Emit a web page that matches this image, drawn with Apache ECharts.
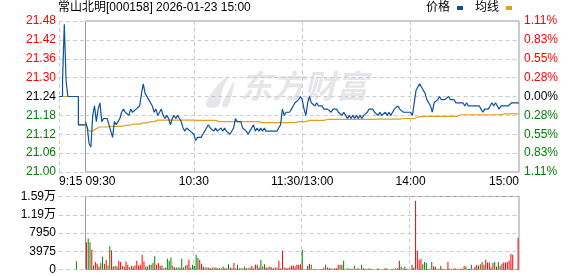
<!DOCTYPE html>
<html><head><meta charset="utf-8">
<script src="https://cdn.jsdelivr.net/npm/echarts@6/dist/echarts.min.js"></script>
<style>html,body{margin:0;padding:0;background:#fff}#c{width:578px;height:276px}</style>
</head><body><div id="c"></div>
<script>
const chartTitle = '常山北明[000158] 2026-01-23 15:00';
const priceTicks = ['21.00','21.06','21.12','21.18','21.24','21.30','21.36','21.42','21.48'];
const pctTicks = ['1.11%','0.83%','0.55%','0.28%','0.00%','0.28%','0.55%','0.83%','1.11%'];
const volTicks = ['0','3975','7950','1.19万','1.59万'];
const timeTickIdx = [0,60,120,180,240];
const timeTickText = ['09:30','10:30','11:30/13:00','14:00','15:00'];
const preTickText = '9:15';

const prePrice = [21.24,21.24,21.29,21.47,21.29,21.24,21.24,21.24,21.24,21.24,21.24,21.15,21.15,21.15,21.15,21.15];
const preAvg = [null,21.24,21.24,21.24,21.24,21.24,21.24,21.24,21.24,21.24,21.24,21.15,21.15,21.15,21.15,21.15];
const preVol = [0,0,0,0,0,0,0,0,0,0,1770,0,0,0,0,0];
const preVolDir = [1,1,1,1,1,1,1,1,1,1,-1,1,1,1,1,1];

const price = [
21.16,21.14,21.09,21.08,21.18,21.21,21.16,21.20,21.22,21.16,
21.17,21.17,21.17,21.15,21.13,21.11,21.16,21.15,21.16,21.17,
21.19,21.20,21.19,21.19,21.18,21.20,21.19,21.19,21.20,21.20,
21.21,21.25,21.28,21.25,21.25,21.23,21.23,21.21,21.19,21.20,
21.18,21.19,21.20,21.18,21.17,21.18,21.17,21.15,21.17,21.18,
21.17,21.18,21.17,21.16,21.14,21.13,21.14,21.14,21.13,21.13,
21.12,21.10,21.11,21.11,21.11,21.12,21.13,21.14,21.15,21.14,
21.14,21.13,21.14,21.13,21.13,21.14,21.13,21.14,21.13,21.13,
21.12,21.12,21.14,21.17,21.16,21.16,21.16,21.14,21.14,21.13,
21.12,21.13,21.14,21.15,21.13,21.14,21.13,21.14,21.13,21.14,
21.13,21.13,21.13,21.13,21.13,21.13,21.13,21.13,21.15,21.20,
21.18,21.19,21.19,21.19,21.20,21.21,21.22,21.22,21.23,21.24,
21.23,21.20,21.18,21.22,21.24,21.22,21.22,21.21,21.22,21.21,
21.21,21.21,21.20,21.20,21.20,21.20,21.19,21.20,21.20,21.20,
21.19,21.19,21.18,21.19,21.18,21.17,21.18,21.17,21.18,21.17,
21.18,21.17,21.18,21.17,21.18,21.18,21.19,21.20,21.20,21.20,
21.19,21.19,21.18,21.19,21.18,21.18,21.19,21.18,21.19,21.18,
21.19,21.20,21.20,21.21,21.20,21.20,21.19,21.19,21.19,21.19,
21.19,21.18,21.18,21.26,21.27,21.28,21.27,21.26,21.25,21.23,
21.22,21.21,21.19,21.22,21.22,21.23,21.24,21.23,21.23,21.23,
21.23,21.24,21.23,21.23,21.23,21.22,21.22,21.22,21.22,21.22,
21.21,21.22,21.21,21.21,21.21,21.21,21.21,21.21,21.21,21.20,
21.19,21.20,21.20,21.20,21.21,21.22,21.21,21.22,21.21,21.20,
21.21,21.21,21.21,21.21,21.21,21.21,21.22,21.22,21.22,21.22,21.22];

const avgPrice = [
21.155,21.14,21.13,21.125,21.13,21.135,21.138,21.14,21.143,21.143,
21.143,21.143,21.143,21.145,21.145,21.145,21.145,21.145,21.145,21.145,
21.145,21.148,21.148,21.148,21.148,21.148,21.152,21.152,21.152,21.152,
21.152,21.156,21.156,21.156,21.156,21.156,21.16,21.16,21.16,21.16,
21.165,21.165,21.165,21.165,21.165,21.165,21.165,21.165,21.165,21.165,
21.165,21.165,21.165,21.165,21.165,21.165,21.165,21.165,21.165,21.165,
21.165,21.164,21.164,21.164,21.164,21.164,21.164,21.164,21.164,21.164,
21.164,21.164,21.164,21.164,21.16,21.16,21.16,21.16,21.16,21.16,
21.16,21.16,21.16,21.16,21.16,21.16,21.16,21.16,21.16,21.16,
21.16,21.16,21.16,21.16,21.16,21.16,21.16,21.157,21.157,21.157,
21.157,21.157,21.157,21.157,21.157,21.157,21.157,21.157,21.157,21.157,
21.157,21.157,21.157,21.157,21.157,21.157,21.157,21.16,21.16,21.16,
21.16,21.16,21.16,21.164,21.164,21.164,21.164,21.164,21.164,21.164,
21.164,21.164,21.164,21.164,21.167,21.167,21.167,21.167,21.167,21.167,
21.167,21.167,21.167,21.167,21.167,21.167,21.167,21.167,21.167,21.167,
21.167,21.167,21.167,21.167,21.167,21.167,21.167,21.167,21.167,21.167,
21.167,21.168,21.168,21.168,21.168,21.168,21.168,21.168,21.168,21.168,
21.168,21.168,21.168,21.168,21.168,21.17,21.17,21.17,21.17,21.17,
21.17,21.17,21.17,21.175,21.175,21.175,21.175,21.177,21.177,21.177,
21.177,21.177,21.177,21.177,21.177,21.177,21.177,21.177,21.177,21.177,
21.177,21.177,21.177,21.177,21.177,21.177,21.177,21.177,21.182,21.182,
21.182,21.182,21.182,21.182,21.182,21.182,21.182,21.182,21.182,21.182,
21.182,21.182,21.182,21.182,21.182,21.182,21.182,21.182,21.182,21.182,
21.182,21.182,21.185,21.185,21.185,21.185,21.185,21.185,21.185,21.185,21.185];

const volume = [
5940,6740,5940,4325,880,1610,1250,660,1390,2790,
1250,2130,880,5060,4180,660,810,660,1910,1610,
810,660,1760,1030,510,810,660,880,1910,880,
1030,3230,1760,660,660,1030,1030,1390,2860,1030,
1390,810,880,290,440,2350,1910,2640,810,440,
440,440,440,2350,440,810,1030,2130,440,1030,
810,3230,2490,2130,1250,660,440,440,440,290,
440,440,440,290,290,290,660,290,290,1170,
440,290,1390,290,1030,290,290,290,660,290,
290,440,810,290,1030,1030,440,2050,660,1170,
440,440,660,440,290,440,440,1910,290,4100,
440,290,290,440,810,880,660,1030,1030,1170,
4325,73,73,810,1250,1030,147,73,73,73,
73,73,440,1030,440,290,290,147,290,290,
1030,1030,1030,1910,73,290,147,147,147,810,
73,290,147,1030,290,147,147,290,73,73,
73,73,290,73,73,73,290,290,73,73,
73,147,290,290,1910,660,290,660,147,73,
73,1030,440,14950,4100,2130,2350,1170,1610,1390,
147,147,1610,660,660,147,147,810,147,147,
73,1610,147,147,147,290,147,147,147,147,
810,660,147,147,1030,147,660,1030,810,1170,
1610,1030,2130,1540,1540,440,1390,1610,660,1610,
810,1250,1540,1540,1610,1910,3370,3230,73,73,6890];

const volDir = [
1,-1,-1,1,-1,1,1,1,-1,-1,
1,1,-1,-1,1,1,-1,1,1,1,
-1,1,1,1,1,-1,1,1,1,1,
1,1,1,-1,1,-1,-1,1,-1,1,
1,1,-1,1,1,-1,-1,-1,1,1,
-1,-1,-1,-1,1,-1,1,1,-1,-1,
-1,-1,-1,1,1,1,-1,1,1,1,
-1,-1,1,-1,1,-1,-1,1,-1,-1,
1,1,1,1,-1,-1,1,-1,-1,1,
1,-1,1,1,1,1,-1,-1,1,-1,
1,1,1,1,-1,-1,1,1,-1,1,
1,1,1,1,1,1,1,1,1,1,
-1,-1,-1,1,1,-1,1,1,1,-1,
1,-1,1,-1,1,1,-1,-1,1,1,
1,1,-1,-1,1,-1,1,-1,1,-1,
1,1,-1,-1,1,1,-1,1,1,-1,
1,1,-1,1,1,1,1,-1,-1,1,
1,-1,1,-1,1,-1,1,-1,1,1,
1,-1,1,1,1,1,1,-1,-1,-1,
-1,-1,-1,1,1,1,1,-1,1,1,
1,1,-1,1,1,1,-1,1,-1,1,
1,-1,1,-1,-1,1,1,1,-1,1,
-1,1,1,1,1,1,1,-1,1,-1,
-1,1,1,1,1,1,1,1,1,1,1];

// clock-time categories
function pad(n){return (n<10?'0':'')+n;}
const preTimes = [];
for (let m = 15; m <= 30; m++) preTimes.push('9:' + pad(m));
const mainTimes = [];
for (let t = 9*60+30; t <= 11*60+30; t++) mainTimes.push(pad(Math.floor(t/60)) + ':' + pad(t%60));
for (let t = 13*60+1; t <= 15*60; t++) mainTimes.push(pad(Math.floor(t/60)) + ':' + pad(t%60));

const UP = '#ff0000', DOWN = '#008000', FLAT = '#000000';
const BLUE = '#0b52a3', GOLD = '#e0a21e';
const FONT = '"Liberation Sans", "Noto Sans CJK SC", sans-serif';
const dash = {color:'#cccccc', type:[4,3], width:1};
const pIdx = v => Math.round((v - 21.00) / 0.06);
const pColor = v => { const i = pIdx(v); return i > 4 ? UP : (i < 4 ? DOWN : FLAT); };

const chart = echarts.init(document.getElementById('c'), null, {renderer:'canvas'});
const option = {
  animation: false,
  backgroundColor: '#fff',
  textStyle: {fontFamily: FONT},
  title: {text: chartTitle, left: 58, top: 2, padding: 0,
    textStyle: {fontSize: 12, fontWeight: 'normal', color: '#000', fontFamily: FONT}},
  legend: {right: 66, top: 2, padding: 0, align: 'right', itemWidth: 6, itemHeight: 4, itemGap: 12,
    icon: 'rect', data: ['价格','均线'],
    textStyle: {fontSize: 12, color: '#000', fontFamily: FONT, padding: [0, 2, 0, 0]}},
  graphic: [
    {type:'text', left: 240, top: 70, z: 0, silent: true,
     style: {text: '东方财富', font: 'italic bold 32px "Noto Sans CJK SC"', fill: '#e6e6ea'}},
    {type:'polygon', left: 206, top: 76, z: 0, silent: true,
     shape: {points: [[2,30],[8,16],[24,0],[18,14],[14,30]], smooth: 0.4},
     style: {fill: '#e6e6ea'}},
    {type:'polygon', left: 222, top: 82, z: 0, silent: true,
     shape: {points: [[0,24],[6,10],[12,0],[10,12],[6,24]], smooth: 0.4},
     style: {fill: '#e6e6ea'}}
  ],
  grid: [
    {left: 59, top: 21, width: 26.5, height: 151, outerBoundsMode: 'none'},
    {left: 85.5, top: 21, width: 433.5, height: 151, show: true, borderColor: '#999', borderWidth: 1, backgroundColor: 'transparent', outerBoundsMode: 'none'},
    {left: 59, top: 196.5, width: 26.5, height: 73, outerBoundsMode: 'none'},
    {left: 85.5, top: 196.5, width: 433.5, height: 73, show: true, borderColor: '#999', borderWidth: 1, backgroundColor: 'transparent', outerBoundsMode: 'none'}
  ],
  xAxis: [
    {type:'category', gridIndex:0, data: preTimes, boundaryGap:false,
     axisLine:{show:false}, axisTick:{show:false},
     axisLabel:{interval:(i)=> i===0, formatter:()=>preTickText, align:'left', margin:4, fontSize:12, color:'#000', fontFamily: FONT},
     splitLine:{show:true, interval:(i)=> i===0, lineStyle: dash}},
    {type:'category', gridIndex:1, data: mainTimes, boundaryGap:false,
     axisLine:{show:false}, axisTick:{show:false},
     axisLabel:{interval:(i)=> timeTickIdx.indexOf(i) >= 0,
       formatter:(v,i)=> timeTickText[timeTickIdx.indexOf(i)],
       alignMinLabel:'left', alignMaxLabel:'right', showMinLabel:true, showMaxLabel:true,
       margin:4, fontSize:12, color:'#000', fontFamily: FONT},
     splitLine:{show:true, interval:(i)=> i===60 || i===120 || i===180, lineStyle: dash}},
    {type:'category', gridIndex:2, data: preTimes, boundaryGap:true,
     axisLine:{show:false}, axisTick:{show:false}, axisLabel:{show:false}, splitLine:{show:false}},
    {type:'category', gridIndex:3, data: mainTimes, boundaryGap:true,
     axisLine:{show:false}, axisTick:{show:false}, axisLabel:{show:false},
     splitLine:{show:true, interval:(i)=> i===60 || i===120 || i===180, lineStyle: dash}}
  ],
  yAxis: [
    {type:'value', gridIndex:0, min:21.00, max:21.48, interval:0.06, position:'left',
     axisLine:{show:false}, axisTick:{show:false},
     axisLabel:{formatter:(v)=> priceTicks[pIdx(v)], color:(v)=> pColor(v), margin:3, fontSize:12, fontFamily: FONT},
     splitLine:{show:true, lineStyle: dash}},
    {type:'value', gridIndex:1, min:21.00, max:21.48, interval:0.06, position:'right',
     axisLine:{show:false}, axisTick:{show:false},
     axisLabel:{formatter:(v)=> pctTicks[pIdx(v)], color:(v)=> pColor(v), margin:5, fontSize:12, fontFamily: FONT},
     splitLine:{show:true, lineStyle: dash}},
    {type:'value', gridIndex:2, min:0, max:15900, interval:3975, position:'left',
     axisLine:{show:false}, axisTick:{show:false},
     axisLabel:{formatter:(v)=> volTicks[Math.round(v/3975)], color:'#000', margin:3, fontSize:12, fontFamily: FONT},
     splitLine:{show:true, lineStyle: dash}},
    {type:'value', gridIndex:3, min:0, max:15900, interval:3975, position:'right',
     axisLine:{show:false}, axisTick:{show:false}, axisLabel:{show:false},
     splitLine:{show:true, lineStyle: dash}}
  ],
  series: [
    {name:'均线', type:'line', xAxisIndex:0, yAxisIndex:0, data: preAvg, showSymbol:false, symbol:'none', step:'end',
     lineStyle:{color: GOLD, width:1.2}, itemStyle:{color: GOLD}, z:2},
    {name:'价格', type:'line', xAxisIndex:0, yAxisIndex:0, data: prePrice, showSymbol:false, symbol:'none', step:'end',
     lineStyle:{color: BLUE, width:1.2}, itemStyle:{color: BLUE}, z:3},
    {name:'均线', type:'line', xAxisIndex:1, yAxisIndex:1, data: avgPrice, showSymbol:false, symbol:'none',
     lineStyle:{color: GOLD, width:1.2}, itemStyle:{color: GOLD}, z:2},
    {name:'价格', type:'line', xAxisIndex:1, yAxisIndex:1, data: price, showSymbol:false, symbol:'none',
     lineStyle:{color: BLUE, width:1.2}, itemStyle:{color: BLUE}, z:3},
    {name:'preVol', type:'bar', xAxisIndex:2, yAxisIndex:2, barWidth:1,
     data: preVol.map((v,i)=>({value:v, itemStyle:{color: preVolDir[i] > 0 ? UP : DOWN}}))},
    {name:'vol', type:'bar', xAxisIndex:3, yAxisIndex:3, barWidth:1,
     data: volume.map((v,i)=>({value:v, itemStyle:{color: volDir[i] > 0 ? UP : DOWN}}))}
  ]
};
chart.setOption(option);
</script>
</body></html>
